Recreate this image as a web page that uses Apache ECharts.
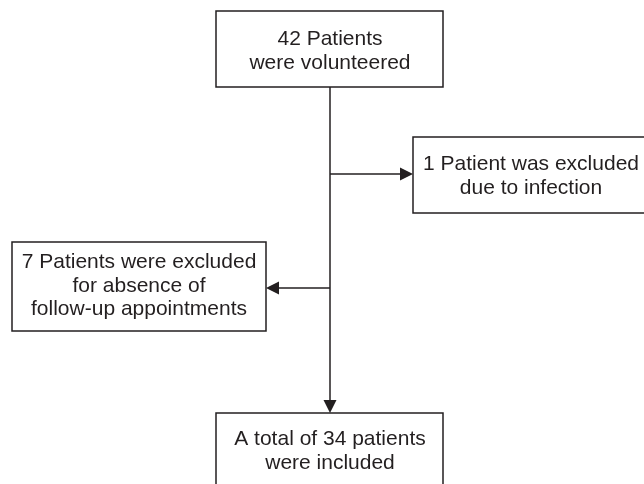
<!DOCTYPE html>
<html><head><meta charset="utf-8">
<script src="https://cdn.jsdelivr.net/npm/echarts@6/dist/echarts.min.js"></script>
<style>html,body{margin:0;padding:0;background:#fff}#c{width:644px;height:484px}</style>
</head><body><div id="c"></div>
<script>
// Flowchart content
const nodeLabels = [
  "42 Patients\nwere volunteered",
  "1 Patient was excluded\ndue to infection",
  "7 Patients were excluded\nfor absence of\nfollow-up appointments",
  "A total of 34 patients\nwere included"
];
// Layout (positions in the chart's own coordinate space)
const boxLeft   = [216, 413, 12, 216];
const boxRight  = [443, 650, 266, 443];
const boxTop    = [11, 137, 242, 413];
const boxBottom = [87, 213, 331, 492];
const textX     = [330, 531, 139, 330];
const textY     = [51, 176, 286, 451];
// Connectors: from (x0,y0) to (x1,y1), arrow at the end
const linkX0 = [330, 330, 330];
const linkY0 = [87, 174, 288];
const linkX1 = [330, 413, 266];
const linkY1 = [413, 174, 288];

const INK = '#231f20';
const boxData = nodeLabels.map((t, i) => [boxLeft[i], boxTop[i], boxRight[i], boxBottom[i], textX[i], textY[i], i]);
const linkData = linkX0.map((x, i) => [x, linkY0[i], linkX1[i], linkY1[i]]);

const chart = echarts.init(document.getElementById('c'), null, {renderer: 'canvas'});
chart.setOption({
  backgroundColor: '#ffffff',
  animation: false,
  grid: {left: 0, right: 0, top: 0, bottom: 0},
  xAxis: {type: 'value', min: 0, max: 644, show: false},
  yAxis: {type: 'value', min: 0, max: 484, inverse: true, show: false},
  series: [
    {
      type: 'custom',
      coordinateSystem: 'cartesian2d',
      data: linkData,
      silent: true,
      renderItem: function (params, api) {
        const p0 = api.coord([api.value(0), api.value(1)]);
        const p1 = api.coord([api.value(2), api.value(3)]);
        const dx = p1[0] - p0[0], dy = p1[1] - p0[1];
        const len = Math.sqrt(dx * dx + dy * dy);
        const ux = dx / len, uy = dy / len;
        const L = 13, W = 6.5;
        const bx = p1[0] - ux * L, by = p1[1] - uy * L;
        return {
          type: 'group',
          children: [
            {type: 'line', shape: {x1: p0[0], y1: p0[1], x2: bx, y2: by},
             style: {stroke: INK, lineWidth: 1.5}},
            {type: 'polygon', shape: {points: [[p1[0], p1[1]], [bx - uy * W, by + ux * W], [bx + uy * W, by - ux * W]]},
             style: {fill: INK}}
          ]
        };
      }
    },
    {
      type: 'custom',
      coordinateSystem: 'cartesian2d',
      data: boxData,
      silent: true,
      renderItem: function (params, api) {
        const a = api.coord([api.value(0), api.value(1)]);
        const b = api.coord([api.value(2), api.value(3)]);
        const c = api.coord([api.value(4), api.value(5)]);
        const idx = api.value(6);
        return {
          type: 'group',
          children: [
            {type: 'rect', shape: {x: a[0], y: a[1], width: b[0] - a[0], height: b[1] - a[1]},
             style: {fill: '#ffffff', stroke: INK, lineWidth: 1.5}},
            {type: 'text', style: {text: nodeLabels[idx], x: c[0], y: c[1], align: 'center', verticalAlign: 'middle',
             fontSize: 21, fontFamily: '"Liberation Sans", Arial, sans-serif', lineHeight: 23.5, fill: INK}}
          ]
        };
      }
    }
  ]
});
</script></body></html>
